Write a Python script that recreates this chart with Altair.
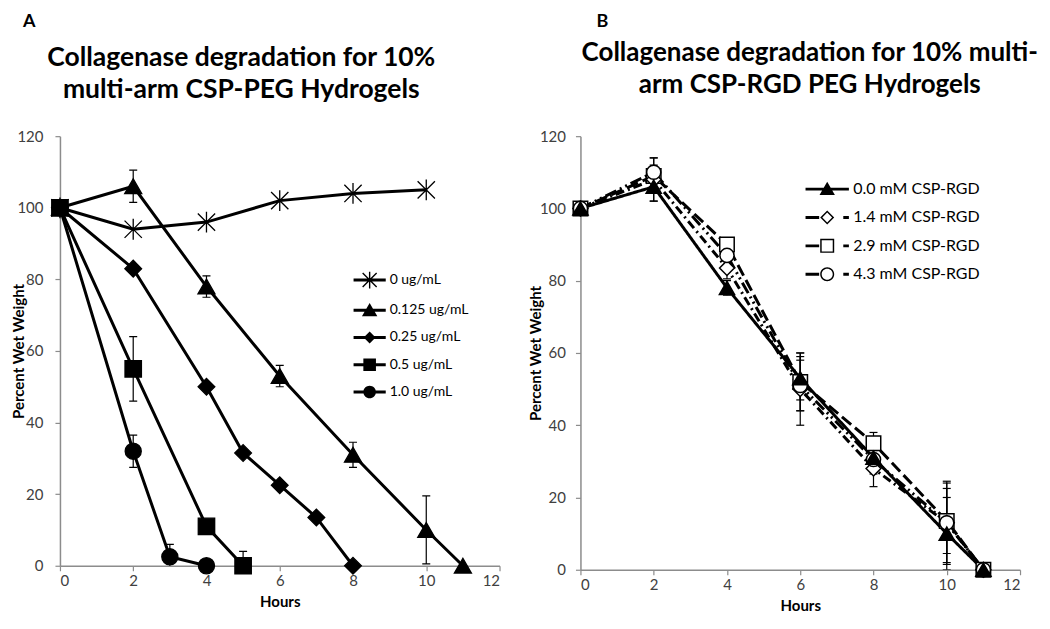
import altair as alt
import pandas as pd

FONT = "Lato"
AXC = "#8c8c8c"
LABC = "#404040"

# ---------------- Panel A data ----------------
a_series = ["0 ug/mL", "0.125 ug/mL", "0.25 ug/mL", "0.5 ug/mL", "1.0 ug/mL"]
a_hours = [
    [0, 2, 4, 6, 8, 10],
    [0, 2, 4, 6, 8, 10, 11],
    [0, 2, 4, 5, 6, 7, 8],
    [0, 2, 4, 5],
    [0, 2, 3, 4],
]
a_weight = [
    [100, 94, 96, 102, 104, 105],
    [100, 106, 78, 53, 31, 10, 0],
    [100, 83, 50, 31.5, 22.5, 13.5, 0],
    [100, 55, 11, 0],
    [100, 32, 2.5, 0],
]
a_err = [
    [0, 0, 0, 0, 0, 0],
    [0, 4.5, 3, 3, 3.5, 9.5, 0],
    [0, 0, 0, 0, 0, 0, 0],
    [0, 9, 0, 4],
    [0, 4.5, 3.5, 0],
]

# ---------------- Panel B data ----------------
b_series = ["0.0 mM CSP-RGD", "1.4 mM CSP-RGD", "2.9 mM CSP-RGD", "4.3 mM CSP-RGD"]
b_hours = [0, 2, 4, 6, 8, 10, 11]
b_weight = [
    [100, 106, 78, 53, 31, 10, 0],
    [100, 108, 83.5, 50, 28, 13, 0],
    [100, 109, 90, 52, 35, 13.5, 0],
    [100, 110, 87, 51, 30.5, 13, 0],
]
b_err = [
    [0, 4, 2, 6, 4, 10, 0],
    [0, 6, 3, 10, 5, 11, 0],
    [0, 3, 1.5, 8, 3, 9, 0],
    [0, 4, 3, 7, 4, 11.5, 0],
]

x_ticks = [0, 2, 4, 6, 8, 10, 12]
y_ticks = [0, 20, 40, 60, 80, 100, 120]

title_a = ["Collagenase degradation for 10%", "multi-arm CSP-PEG Hydrogels"]
title_b = ["Collagenase degradation for 10% multi-", "arm CSP-RGD PEG Hydrogels"]


def long_df(series, hours, weights, errs, order=None):
    rows = []
    idx = order if order is not None else range(len(series))
    for i in idx:
        hs = hours[i] if isinstance(hours[0], list) else hours
        for h, w, e in zip(hs, weights[i], errs[i]):
            rows.append({"series": series[i], "hours": h, "weight": w,
                         "err": e, "lo": w - e, "hi": w + e})
    return pd.DataFrame(rows)


dfA = long_df(a_series, a_hours, a_weight, a_err, order=[0, 1, 2, 4, 3])
dfB = long_df(b_series, b_hours, b_weight, b_err, order=[2, 1, 3, 0])

XS = alt.Scale(domain=[0, 12], nice=False, zero=True)
YS = alt.Scale(domain=[0, 120], nice=False, zero=True)


def x_bottom():
    return alt.Axis(values=x_ticks, title="Hours", orient="bottom", grid=False,
                    tickSize=5, tickColor=AXC, tickWidth=1.2, domainColor=AXC,
                    domainWidth=1.5, labelFont=FONT, labelFontSize=15,
                    labelColor=LABC, labelPadding=3, titleFont=FONT,
                    titleFontSize=15, titleFontWeight="bold", titleColor="black",
                    titlePadding=6, format="d")


def y_left(title_x, label_pad):
    return alt.Axis(values=y_ticks, title="Percent Wet Weight", grid=False,
                    tickSize=5, tickColor=AXC, tickWidth=1.2, domainColor=AXC,
                    domainWidth=1.5, labelFont=FONT, labelFontSize=15,
                    labelColor=LABC, labelPadding=label_pad, titleFont=FONT,
                    titleFontSize=15, titleFontWeight="bold", titleColor="black",
                    titleX=title_x, format="d")


def x_top(lines, title_x, pad, size):
    return alt.Axis(orient="top", labels=False, ticks=False, domain=False,
                    grid=False, title=lines, titleX=title_x, titleAlign="center",
                    titleFont=FONT, titleFontSize=size, titleFontWeight="bold",
                    titleColor="black", titleLineHeight=32, titlePadding=pad)


def X(field, axis):
    return alt.X(f"{field}:Q", scale=XS, axis=axis)


def Y(field, axis):
    return alt.Y(f"{field}:Q", scale=YS, axis=axis)


def error_layers(df, yaxis):
    base = alt.Chart(df).transform_filter("datum.err > 0")
    rule = base.mark_rule(color="black", strokeWidth=1.2, clip=True).encode(
        x=X("hours", None), y=Y("lo", yaxis), y2="hi:Q")
    cap_hi = base.mark_tick(orient="horizontal", size=8, thickness=1.2,
                            color="black", opacity=1, clip=True).encode(
        x=X("hours", None), y=Y("hi", yaxis))
    cap_lo = base.mark_tick(orient="horizontal", size=8, thickness=1.2,
                            color="black", opacity=1, clip=True).encode(
        x=X("hours", None), y=Y("lo", yaxis))
    return [rule, cap_hi, cap_lo]


# ---------------- Panel A ----------------
ASTER = "M-1,-1L1,1M-1,1L1,-1M0,-1.2V1.2"
a_shapes = [ASTER, "triangle-up", "diamond", "square", "circle"]
a_sizes = [300, 260, 190, 250, 260]

# legend symbols: filled outlines (line segment + marker)
LINE_A = "M-2.3,-0.21H2.3V0.21H-2.3Z"
ASTER_FILL = ("M-0.1,-1.2H0.1V1.2H-0.1Z"
              "M-0.93,-1.07L1.07,0.93L0.93,1.07L-1.07,-0.93Z"
              "M-1.07,0.93L0.93,-1.07L1.07,-0.93L-0.93,1.07Z")
a_legend_paths = [
    LINE_A + ASTER_FILL,
    LINE_A + "M0,-1.05L1.1,0.85H-1.1Z",
    LINE_A + "M0,-0.85L0.85,0L0,0.85L-0.85,0Z",
    LINE_A + "M-0.9,-0.9H0.9V0.9H-0.9Z",
    LINE_A + "M-0.9,0A0.9,0.9,0,1,1,0.9,0A0.9,0.9,0,1,1,-0.9,0Z",
]

yA = y_left(-33, 12)

linesA = alt.Chart(dfA).mark_line(color="black", strokeWidth=3).encode(
    x=X("hours", x_bottom()), y=Y("weight", yA), detail="series:N")

pointsA = alt.Chart(dfA).mark_point(filled=True, fill="black", stroke="black",
                                    strokeWidth=1.3, opacity=1).encode(
    x=X("hours", None), y=Y("weight", yA),
    shape=alt.Shape("series:N", scale=alt.Scale(domain=a_series, range=a_shapes), legend=None),
    size=alt.Size("series:N", scale=alt.Scale(domain=a_series, range=a_sizes), legend=None),
)

legA = alt.Legend(orient="none", legendX=303, legendY=137, title=None,
                  symbolSize=196, symbolStrokeWidth=0, symbolFillColor="black",
                  labelFont=FONT, labelFontSize=14, labelColor="black",
                  labelOffset=13, rowPadding=13.25, padding=0)

legendLayerA = alt.Chart(dfA).transform_filter("false").mark_point(
    filled=True, fill="black", strokeWidth=0, opacity=1).encode(
    x=X("hours", x_top(title_a, 181, 33, 26.5)), y=Y("weight", yA),
    shape=alt.Shape("series:N", scale=alt.Scale(domain=a_series, range=a_legend_paths), legend=legA),
)

panelA = alt.layer(linesA, *error_layers(dfA, yA), pointsA, legendLayerA).resolve_scale(
    shape="independent", size="independent").resolve_axis(x="independent").properties(
    width=440, height=430,
    title=alt.TitleParams("A", anchor="start", frame="group", dx=-37, offset=13,
                          fontSize=18, font=FONT, fontWeight="bold", color="black"))

# ---------------- Panel B ----------------
b_shapes = ["triangle-up", "diamond", "square", "circle"]
b_sizes = [230, 200, 290, 200]
b_fills = ["black", "white", "white", "white"]
b_dashes = [[1, 0], [9, 4, 2, 4], [12, 5], [12, 4, 2, 4, 2, 4]]

DASH_L = "M-3.1,-0.21H-1.15V0.21H-3.1Z"
DASH_R = "M2.3,-0.21H3.1V0.21H2.3Z"
b_legend_paths = [
    "M-3.1,-0.21H-0.5V0.21H-3.1ZM0.5,-0.21H3.1V0.21H0.5ZM0,-1.05L1.1,0.85H-1.1Z",
    DASH_L + DASH_R + "M0,-1L1,0L0,1L-1,0ZM0,-0.7L-0.7,0L0,0.7L0.7,0Z",
    DASH_L + DASH_R + "M-1,-1H1V1H-1ZM-0.79,-0.79V0.79H0.79V-0.79Z",
    DASH_L + DASH_R + ("M-1,0A1,1,0,1,1,1,0A1,1,0,1,1,-1,0Z"
                       "M-0.79,0A0.79,0.79,0,1,0,0.79,0A0.79,0.79,0,1,0,-0.79,0Z"),
]

yB = y_left(-37, 10)

linesB = alt.Chart(dfB).mark_line(color="black", strokeWidth=3).encode(
    x=X("hours", x_bottom()), y=Y("weight", yB),
    detail="series:N",
    strokeDash=alt.StrokeDash("series:N", scale=alt.Scale(domain=b_series, range=b_dashes), legend=None),
)

pointsB = alt.Chart(dfB).mark_point(filled=True, stroke="black", strokeWidth=1.5,
                                    opacity=1).encode(
    x=X("hours", None), y=Y("weight", yB),
    shape=alt.Shape("series:N", scale=alt.Scale(domain=b_series, range=b_shapes), legend=None),
    size=alt.Size("series:N", scale=alt.Scale(domain=b_series, range=b_sizes), legend=None),
    fill=alt.Fill("series:N", scale=alt.Scale(domain=b_series, range=b_fills), legend=None),
)

legB = alt.Legend(orient="none", legendX=239, legendY=45, title=None,
                  symbolSize=196, symbolStrokeWidth=0, symbolFillColor="black",
                  labelFont=FONT, labelFontSize=16, labelColor="black",
                  labelOffset=18, rowPadding=12.4, padding=0)

legendLayerB = alt.Chart(dfB).transform_filter("false").mark_point(
    filled=True, fill="black", strokeWidth=0, opacity=1).encode(
    x=X("hours", x_top(title_b, 229, 39, 26)), y=Y("weight", yB),
    shape=alt.Shape("series:N", scale=alt.Scale(domain=b_series, range=b_legend_paths), legend=legB),
)

panelB = alt.layer(linesB, *error_layers(dfB, yB), pointsB, legendLayerB).resolve_scale(
    shape="independent", size="independent").resolve_axis(
    x="independent").properties(
    width=440, height=434,
    title=alt.TitleParams("B", anchor="start", frame="group", dx=16, offset=8,
                          fontSize=18, font=FONT, fontWeight="bold", color="black"))

chart = alt.hconcat(panelA, panelB, spacing=28).configure_view(stroke=None).properties(
    padding={"left": 4, "top": 5, "right": 4, "bottom": 4})

chart.save("out.html", embed_options={"renderer": "svg", "actions": False})
